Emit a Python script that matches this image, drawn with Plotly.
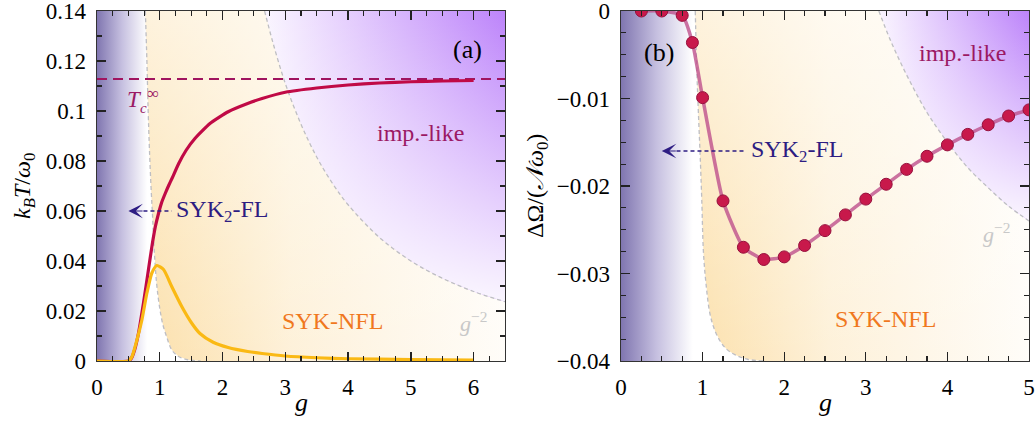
import plotly.graph_objects as go

# ---------------- data: panel (a) ----------------
g_red = [0.0, 0.5, 0.55, 0.6, 0.66, 0.74, 0.82, 0.884, 0.93, 0.98, 1.03, 1.09, 1.14, 1.2, 1.3, 1.42, 1.56, 1.8, 2.09, 2.4, 2.63, 3.0, 3.5, 4.0, 4.5, 5.0, 5.5, 6.0]
T_red = [0.0, 0.0, 0.0012, 0.0045, 0.011, 0.0231, 0.0366, 0.0473, 0.0538, 0.0590, 0.0634, 0.0672, 0.0701, 0.0733, 0.0789, 0.0843, 0.089, 0.095, 0.0997, 0.103, 0.105, 0.1075, 0.1092, 0.1104, 0.1112, 0.1117, 0.112, 0.1122]

g_yel = [0.0, 0.5, 0.555, 0.635, 0.715, 0.795, 0.874, 0.953, 1.06, 1.19, 1.35, 1.51, 1.64, 1.85, 2.09, 2.4, 2.63, 3.0, 3.5, 4.0, 5.0, 6.0]
T_yel = [0.0, 0.0, 0.0016, 0.0083, 0.0164, 0.0272, 0.0352, 0.0382, 0.0366, 0.0298, 0.0218, 0.0151, 0.0110, 0.0075, 0.0054, 0.0038, 0.003, 0.002, 0.0013, 0.0009, 0.0006, 0.0004]

Tc_inf = 0.1128

# boundary SYK2-FL / SYK-NFL (a)
bnd_a_g = [0.77, 0.795, 0.815, 0.835, 0.86, 0.885, 0.91, 0.95, 1.0, 1.05, 1.11, 1.19, 1.3, 1.45, 1.65]
bnd_a_T = [0.14, 0.12, 0.10, 0.085, 0.07, 0.058, 0.045, 0.031, 0.021, 0.0145, 0.0097, 0.0045, 0.0018, 0.0005, 0.0]
# g^-2 crossover (a)
crv_a_g = [2.67, 2.8, 3.0, 3.25, 3.5, 3.75, 4.0, 4.5, 5.0, 5.5, 6.0, 6.5]
crv_a_T = [0.140, 0.1276, 0.111, 0.0947, 0.0816, 0.0711, 0.0625, 0.0494, 0.040, 0.0331, 0.0278, 0.0237]

# ---------------- data: panel (b) ----------------
g_b = [0.25, 0.5, 0.75, 0.875, 1.0, 1.25, 1.5, 1.75, 2.0, 2.25, 2.5, 2.75, 3.0, 3.25, 3.5, 3.75, 4.0, 4.25, 4.5, 4.75, 5.0]
dOmega = [0.0, 0.0, -0.0005, -0.0036, -0.0099, -0.0217, -0.0270, -0.0284, -0.0281, -0.0268, -0.0251, -0.0233, -0.0215, -0.0198, -0.0181, -0.0166, -0.0153, -0.0141, -0.0130, -0.0120, -0.0113]

bnd_b_g = [0.91, 0.93, 0.95, 0.97, 0.99, 1.01, 1.04, 1.09, 1.15, 1.22, 1.3, 1.4, 1.55, 1.75]
bnd_b_v = [0.0, -0.007, -0.012, -0.0165, -0.0216, -0.0275, -0.031, -0.0346, -0.0365, -0.0378, -0.0387, -0.0393, -0.0398, -0.04]
crv_b_g = [3.16, 3.3, 3.5, 3.75, 4.0, 4.25, 4.5, 4.75, 5.0]
crv_b_v = [0.0, -0.0033, -0.0073, -0.0116, -0.015, -0.0179, -0.0202, -0.0223, -0.024]

# ticks
xa_ticks = [0, 1, 2, 3, 4, 5, 6]
xa_text = ["0", "1", "2", "3", "4", "5", "6"]
ya_ticks = [0, 0.02, 0.04, 0.06, 0.08, 0.10, 0.12, 0.14]
ya_text = ["0", "0.02", "0.04", "0.06", "0.08", "0.1", "0.12", "0.14"]
xb_ticks = [0, 1, 2, 3, 4, 5]
xb_text = ["0", "1", "2", "3", "4", "5"]
yb_ticks = [0, -0.01, -0.02, -0.03, -0.04]
yb_text = ["0", "\u22120.01", "\u22120.02", "\u22120.03", "\u22120.04"]
xa_minor = [i * 0.25 for i in range(27)]
ya_minor = [i * 0.01 for i in range(15)]
xb_minor = [i * 0.25 for i in range(21)]
yb_minor = [-i * 0.0025 for i in range(17)]

XA_MAX, YA_MAX = 6.5, 0.14
XB_MAX, YB_MIN = 5.0, -0.04

FONT = "Liberation Serif, DejaVu Serif, Times New Roman, serif"
NAVY = "rgb(45,28,130)"
MAG = "rgb(155,25,100)"
ORANGE = "rgb(240,120,30)"
GRAYTXT = "rgb(200,200,200)"

fig = go.Figure()


def region(x, y, xa, ya, grad):
    fig.add_trace(go.Scatter(x=x, y=y, xaxis=xa, yaxis=ya, mode="none", fill="toself",
                             fillgradient=grad, hoverinfo="skip", showlegend=False))


def hgrad(cs, a, b):
    return dict(type="horizontal", colorscale=cs, start=a, stop=b)


def vgrad(cs, a, b):
    return dict(type="vertical", colorscale=cs, start=a, stop=b)


LEFT_CS = [[0, "rgb(128,118,176)"], [0.5, "rgb(198,192,224)"], [1, "rgb(255,255,255)"]]
YEL_CS = [[0, "rgba(250,208,128,0.66)"], [0.4, "rgba(250,208,128,0.30)"], [1, "rgba(250,208,128,0.05)"]]
PUR_CS = [[0, "rgba(185,125,250,0.08)"], [1, "rgba(185,125,250,0.95)"]]
WHITE_UP = [[0, "rgba(255,255,255,0)"], [1, "rgba(255,255,255,0.6)"]]
WHITE_DN = [[0, "rgba(255,255,255,0.92)"], [1, "rgba(255,255,255,0)"]]

# ---- panel (a) regions ----
region([0] + bnd_a_g + [0], [YA_MAX] + bnd_a_T + [0], "x", "y", hgrad(LEFT_CS, 0, 0.8))
ya_x = bnd_a_g + [XA_MAX] + crv_a_g[::-1]
ya_y = bnd_a_T + [0] + crv_a_T[::-1]
region(ya_x, ya_y, "x", "y", hgrad(YEL_CS, 0.8, XA_MAX))
region(ya_x, ya_y, "x", "y", vgrad(WHITE_UP, 0, YA_MAX))
pa_x = crv_a_g + [XA_MAX]
pa_y = crv_a_T + [YA_MAX]
region(pa_x, pa_y, "x", "y", hgrad(PUR_CS, 2.7, XA_MAX))
region(pa_x, pa_y, "x", "y", vgrad(WHITE_DN, crv_a_T[-1], YA_MAX))

# ---- panel (b) regions ----
region([0] + bnd_b_g + [0], [0] + bnd_b_v + [YB_MIN], "x2", "y2", hgrad(LEFT_CS, 0, 0.88))
yb_x = bnd_b_g + [XB_MAX] + crv_b_g[::-1]
yb_y = bnd_b_v + [YB_MIN] + crv_b_v[::-1]
region(yb_x, yb_y, "x2", "y2", hgrad(YEL_CS, 0.9, XB_MAX))
region(yb_x, yb_y, "x2", "y2", vgrad(WHITE_UP, YB_MIN, 0))
pb_x = crv_b_g + [XB_MAX]
pb_y = crv_b_v + [0]
region(pb_x, pb_y, "x2", "y2", hgrad(PUR_CS, 3.16, XB_MAX))
region(pb_x, pb_y, "x2", "y2", vgrad(WHITE_DN, crv_b_v[-1], 0))

# ---- dashed boundaries ----
DASHGRAY = dict(color="rgb(190,190,195)", width=1.3, dash="4px,3px")
for gx, gy, xa, ya in [(bnd_a_g, bnd_a_T, "x", "y"), (crv_a_g, crv_a_T, "x", "y"),
                       (bnd_b_g, bnd_b_v, "x2", "y2"), (crv_b_g, crv_b_v, "x2", "y2")]:
    fig.add_trace(go.Scatter(x=gx, y=gy, xaxis=xa, yaxis=ya, mode="lines", line=dict(**DASHGRAY, shape="spline"),
                             hoverinfo="skip", showlegend=False))

# ---- Tc infinity line ----
fig.add_trace(go.Scatter(x=[0, XA_MAX], y=[Tc_inf, Tc_inf], mode="lines",
                         line=dict(color="rgb(160,20,95)", width=2, dash="10px,6px"), showlegend=False))
# ---- Tc curves ----
fig.add_trace(go.Scatter(x=g_red, y=T_red, mode="lines",
                         line=dict(color="rgb(192,10,70)", width=3.2, shape="spline", smoothing=0.5), showlegend=False))
fig.add_trace(go.Scatter(x=g_yel, y=T_yel, mode="lines",
                         line=dict(color="rgb(250,185,20)", width=3.2, shape="spline", smoothing=0.6), showlegend=False))

# ---- panel (b) data ----
fig.add_trace(go.Scatter(x=g_b, y=dOmega, xaxis="x2", yaxis="y2", mode="lines+markers", cliponaxis=True,
                         line=dict(color="rgba(190,80,140,0.8)", width=3.5, shape="spline", smoothing=0.5),
                         marker=dict(size=12, color="rgb(200,25,75)", line=dict(color="rgb(150,15,60)", width=1)),
                         showlegend=False))


def axis(domain, rng, tv, tt, anchor, minor_vals):
    return dict(domain=domain, range=rng, anchor=anchor, tickmode="array", tickvals=tv, ticktext=tt,
                ticks="inside", ticklen=9, tickwidth=1.3, tickcolor="#222",
                showline=True, linecolor="#333", linewidth=1.3, mirror="allticks",
                showgrid=False, zeroline=False, layer="above traces", automargin=False,
                ticklabeloverflow="allow", ticklabelstandoff=5,
                tickfont=dict(family=FONT, size=23, color="black"),
                minor=dict(ticks="inside", ticklen=5, tickwidth=1.1, tickcolor="#222",
                           tickmode="array", tickvals=minor_vals, showgrid=False))


W, H = 1036, 422
xa_dom = [97 / W, 505 / W]
xb_dom = [621 / W, 1029 / W]
y_dom = [61 / H, 411 / H]

fig.update_layout(
    width=W, height=H, margin=dict(l=0, r=0, t=0, b=0, autoexpand=False),
    paper_bgcolor="white", plot_bgcolor="white", showlegend=False,
    xaxis=axis(xa_dom, [0, XA_MAX], xa_ticks, xa_text, "y", xa_minor),
    yaxis=axis(y_dom, [0, YA_MAX], ya_ticks, ya_text, "x", ya_minor),
    xaxis2=axis(xb_dom, [0, XB_MAX], xb_ticks, xb_text, "y2", xb_minor),
    yaxis2=axis(y_dom, [YB_MIN, 0], yb_ticks, yb_text, "x2", yb_minor),
)


def txt(x, y, s, size=24, color="black", xref="x", yref="y", xanchor="center", angle=0):
    fig.add_annotation(x=x, y=y, xref=xref, yref=yref, text=s, showarrow=False, xanchor=xanchor,
                       yanchor="middle", textangle=angle, font=dict(family=FONT, size=size, color=color))


# panel (a) texts
txt(5.9, 0.1245, "(a)", size=26)
txt(0.59, 0.1047, "<i>T</i>", size=23, color=MAG)
txt(0.745, 0.1012, "<i>c</i>", size=15, color=MAG)
txt(0.885, 0.1072, "\u221e", size=17, color=MAG)
txt(5.15, 0.0914, "imp.-like", color=MAG)
txt(1.22, 0.06, "SYK<sub>2</sub>-FL", color=NAVY, xanchor="left")
txt(3.745, 0.016, "SYK-NFL", color=ORANGE)
txt(6.0, 0.0156, "<i>g</i><sup>\u22122</sup>", size=22, color=GRAYTXT)

# panel (b) texts
txt(0.46, -0.00476, "(b)", size=26, xref="x2", yref="y2")
txt(4.18, -0.00476, "imp.-like", color=MAG, xref="x2", yref="y2")
txt(1.57, -0.016, "SYK<sub>2</sub>-FL", color=NAVY, xref="x2", yref="y2", xanchor="left")
txt(3.245, -0.0352, "SYK-NFL", color=ORANGE, xref="x2", yref="y2")
txt(4.607, -0.0254, "<i>g</i><sup>\u22122</sup>", size=22, color=GRAYTXT, xref="x2", yref="y2")

# arrows SYK2-FL
for (xr, yr, tip, base, end, yv) in [("x", "y", 0.5, 0.74, 1.19, 0.06), ("x2", "y2", 0.5, 0.68, 1.52, -0.016)]:
    fig.add_shape(type="line", xref=xr, yref=yr, x0=base, x1=end, y0=yv, y1=yv,
                  line=dict(color=NAVY, width=1.3, dash="4px,3px"))
    fig.add_annotation(x=tip, y=yv, ax=base + 0.01, ay=yv, xref=xr, yref=yr, axref=xr, ayref=yr,
                       text="", showarrow=True, arrowhead=3, arrowsize=2.2, arrowwidth=1.1, arrowcolor=NAVY)

# axis titles
txt(301 / W, 1 - 402 / H, "<i>g</i>", size=26, xref="paper", yref="paper")
txt(825 / W, 1 - 402 / H, "<i>g</i>", size=26, xref="paper", yref="paper")
txt(24 / W, 1 - 186 / H, "<i>k</i><sub><i>B</i></sub><i>T</i>/<i>\u03c9</i><sub>0</sub>", size=24,
    xref="paper", yref="paper", angle=-90)
txt(537 / W, 1 - 186 / H, "\u0394\u03a9/(<i>\U0001D4A9</i><i>\u03c9</i><sub>0</sub>)", size=24,
    xref="paper", yref="paper", angle=-90)

fig.write_html("out.html", config={"displayModeBar": False, "staticPlot": True},
               post_script="document.body.style.margin='0';document.body.style.padding='0';"
                           "document.documentElement.style.overflow='hidden';")
